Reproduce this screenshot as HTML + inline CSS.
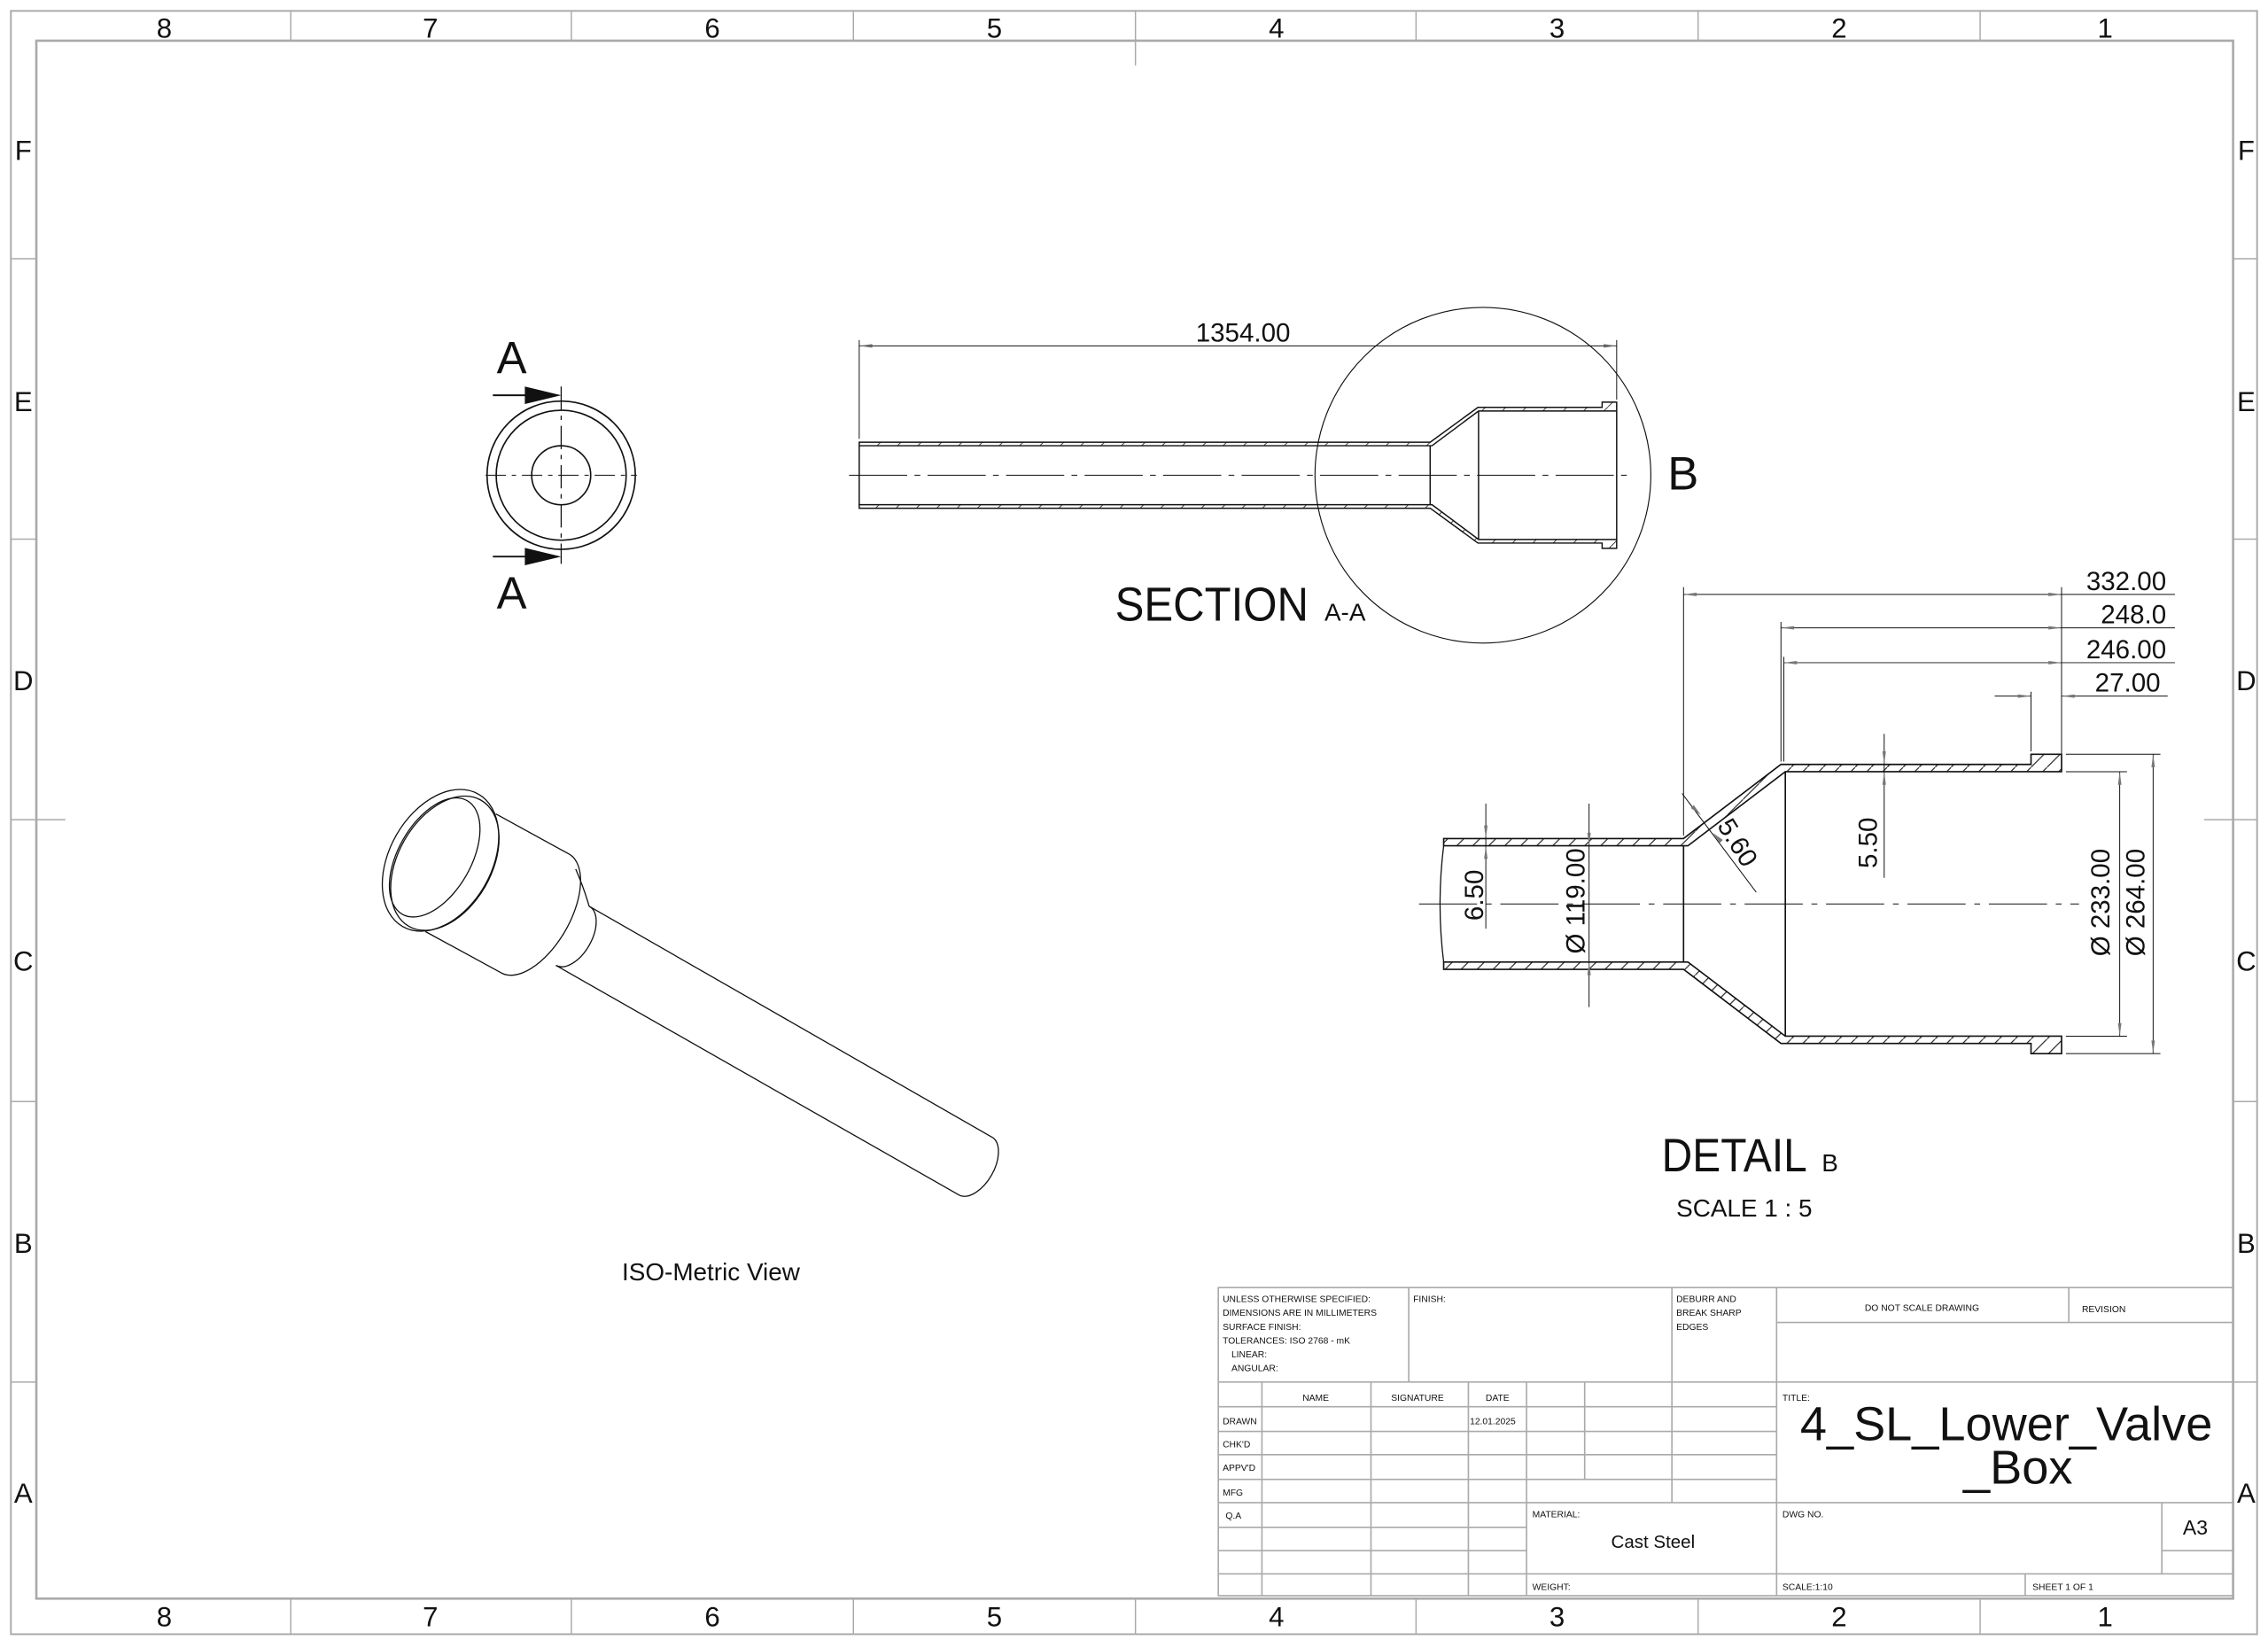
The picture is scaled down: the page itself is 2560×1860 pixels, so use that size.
<!DOCTYPE html>
<html><head><meta charset="utf-8"><style>
html,body{margin:0;padding:0;background:#fff;}
svg{display:block;}
text{font-family:"Liberation Sans",sans-serif;fill:#111;}
</style></head><body>
<svg width="2560" height="1860" viewBox="0 0 1560 1134" preserveAspectRatio="none" xmlns="http://www.w3.org/2000/svg">
<defs>
<pattern id="h" patternUnits="userSpaceOnUse" width="11" height="11"><line x1="0" y1="11" x2="11" y2="0" stroke="#222" stroke-width="0.7"/></pattern>
<pattern id="h2" patternUnits="userSpaceOnUse" width="14" height="14"><line x1="0" y1="14" x2="14" y2="0" stroke="#222" stroke-width="0.5"/></pattern>
</defs>
<rect width="1560" height="1134" fill="#fff"/>
<g fill="none" stroke="#aaa">
<rect x="7.5" y="7.5" width="1545" height="1117" stroke-width="1.2"/>
<rect x="25" y="28" width="1511" height="1072" stroke-width="1.6"/>
<g stroke-width="0.9">
<line x1="200" y1="8" x2="200" y2="28"/><line x1="393" y1="8" x2="393" y2="28"/><line x1="587" y1="8" x2="587" y2="28"/><line x1="781" y1="8" x2="781" y2="45"/><line x1="974" y1="8" x2="974" y2="28"/><line x1="1168" y1="8" x2="1168" y2="28"/><line x1="1362" y1="8" x2="1362" y2="28"/>
<line x1="200" y1="1100" x2="200" y2="1124"/><line x1="393" y1="1100" x2="393" y2="1124"/><line x1="587" y1="1100" x2="587" y2="1124"/><line x1="781" y1="1100" x2="781" y2="1124"/><line x1="974" y1="1100" x2="974" y2="1124"/><line x1="1168" y1="1100" x2="1168" y2="1124"/><line x1="1362" y1="1100" x2="1362" y2="1124"/>
<line x1="8" y1="178" x2="25" y2="178"/><line x1="8" y1="371" x2="25" y2="371"/><line x1="8" y1="564" x2="45" y2="564"/><line x1="8" y1="758" x2="25" y2="758"/><line x1="8" y1="951" x2="25" y2="951"/>
<line x1="1536" y1="178" x2="1552" y2="178"/><line x1="1536" y1="371" x2="1552" y2="371"/><line x1="1516" y1="564" x2="1552" y2="564"/><line x1="1536" y1="758" x2="1552" y2="758"/><line x1="1536" y1="951" x2="1552" y2="951"/>
</g></g>
<g font-size="19" text-anchor="middle">
<text x="113" y="26">8</text><text x="296" y="26">7</text><text x="490" y="26">6</text><text x="684" y="26">5</text><text x="878" y="26">4</text><text x="1071" y="26">3</text><text x="1265" y="26">2</text><text x="1448" y="26">1</text>
<text x="113" y="1119">8</text><text x="296" y="1119">7</text><text x="490" y="1119">6</text><text x="684" y="1119">5</text><text x="878" y="1119">4</text><text x="1071" y="1119">3</text><text x="1265" y="1119">2</text><text x="1448" y="1119">1</text>
<text x="16" y="110">F</text><text x="16" y="283">E</text><text x="16" y="475">D</text><text x="16" y="668">C</text><text x="16" y="862">B</text><text x="16" y="1034">A</text>
<text x="1545" y="110">F</text><text x="1545" y="283">E</text><text x="1545" y="475">D</text><text x="1545" y="668">C</text><text x="1545" y="862">B</text><text x="1545" y="1034">A</text>
</g>

<g fill="none" stroke="#111" stroke-width="1">
<circle cx="386" cy="327" r="51"/><circle cx="386" cy="327" r="44.7"/><circle cx="386" cy="327" r="20.3"/>
<line x1="334" y1="327" x2="438" y2="327" stroke-width="0.6" stroke-dasharray="14,4,3,4"/>
<line x1="386" y1="266" x2="386" y2="388" stroke-width="0.8" stroke-dasharray="16,4,3,4"/>
<line x1="339" y1="272" x2="365" y2="272" stroke-width="1.2"/><line x1="339" y1="383" x2="365" y2="383" stroke-width="1.2"/>
</g>
<polygon points="361,266 386,272 361,278" fill="#111"/><polygon points="361,377 386,383 361,389" fill="#111"/>
<text x="352" y="257" font-size="31" text-anchor="middle">A</text><text x="352" y="419" font-size="31" text-anchor="middle">A</text>

<g fill="none" stroke="#111" stroke-width="0.9">
<path d="M591,304.3 L983.7,304.3 L1016.6,280.3 L1102,280.3 L1102,276.7 L1112,276.7 L1112,282.8 L1017,282.8 L985,306.7 L591,306.7 Z" fill="url(#h2)"/>
<path d="M591,349.7 L983.7,349.7 L1016.6,373.7 L1102,373.7 L1102,377.3 L1112,377.3 L1112,371.2 L1017,371.2 L985,347.3 L591,347.3 Z" fill="url(#h2)"/>
<line x1="591" y1="306.7" x2="591" y2="347.3"/><line x1="983.7" y1="306.7" x2="983.7" y2="347.3"/><line x1="1017" y1="282.8" x2="1017" y2="371.2"/><line x1="1112" y1="282.8" x2="1112" y2="371.2"/>
<line x1="584" y1="327" x2="1122" y2="327" stroke-width="0.6" stroke-dasharray="40,5,4,5"/>
<circle cx="1020" cy="327" r="115.5" stroke-width="0.7"/>
<g stroke-width="0.6"><line x1="591" y1="234" x2="591" y2="302"/><line x1="1112" y1="234" x2="1112" y2="275"/><line x1="591" y1="238" x2="1112" y2="238"/></g>
</g>
<g fill="#666"><polygon points="591,238 600,236.8 600,239.2"/><polygon points="1112,238 1103,236.8 1103,239.2"/></g>
<text x="855" y="235" font-size="18" text-anchor="middle">1354.00</text>
<text x="1147" y="337" font-size="32">B</text>
<text x="767" y="427" font-size="33" textLength="133" lengthAdjust="spacingAndGlyphs">SECTION</text><text x="911" y="427" font-size="17">A-A</text>

<g fill="none" stroke="#111" stroke-width="0.8">
<ellipse cx="303" cy="592" rx="35" ry="52.5" transform="rotate(29.8 303 592)"/>
<ellipse cx="306" cy="594" rx="32" ry="50" transform="rotate(29.8 306 594)"/>
<ellipse cx="299" cy="590" rx="25" ry="45" transform="rotate(29.8 299 590)"/>
<line x1="341" y1="560" x2="392" y2="588"/><line x1="292.6" y1="641" x2="344" y2="669"/>
<path d="M392,588 A24,47 29.8 0 1 344,669"/>
<path d="M396,598 Q402,612 405.2,623.6"/>
<path d="M405.2,623.6 A13,23 29.8 0 1 382.4,664.3"/>
<line x1="405.2" y1="623.6" x2="683.2" y2="783"/><line x1="382.4" y1="664.3" x2="660.4" y2="822.7"/>
<path d="M683.2,783 A13,23 29.8 0 1 660.4,822.7"/>
</g>
<text x="489" y="881" font-size="17" text-anchor="middle">ISO-Metric View</text>

<g fill="none" stroke="#111" stroke-width="1">
<path d="M993,577 L1158,577 L1225,526 L1397,526 L1397,519 L1418,519 L1418,531 L1228,531 L1161,582 L993,582 Z" fill="url(#h)"/>
<path d="M993,667 L1158,667 L1225,718 L1397,718 L1397,725 L1418,725 L1418,713 L1228,713 L1161,662 L993,662 Z" fill="url(#h)"/>
<line x1="1158" y1="582" x2="1158" y2="662"/><line x1="1228" y1="531" x2="1228" y2="713"/>
<path d="M993,582 Q988,622 993,662" stroke-width="0.8"/>
</g>
<g fill="none" stroke="#111" stroke-width="0.6">
<line x1="976" y1="622" x2="1430" y2="622" stroke-dasharray="40,6,4,6"/>
<line x1="1158" y1="404" x2="1158" y2="575"/><line x1="1225" y1="428" x2="1225" y2="524"/><line x1="1227" y1="452" x2="1227" y2="524"/>
<line x1="1418" y1="404" x2="1418" y2="519"/><line x1="1397" y1="476" x2="1397" y2="517"/>
<line x1="1158" y1="409" x2="1496" y2="409"/><line x1="1225" y1="432" x2="1496" y2="432"/><line x1="1227" y1="456" x2="1496" y2="456"/>
<line x1="1372" y1="479" x2="1397" y2="479"/><line x1="1418" y1="479" x2="1491" y2="479"/>
<line x1="1022" y1="553" x2="1022" y2="639"/><line x1="1093" y1="553" x2="1093" y2="693"/>
<line x1="1296" y1="505" x2="1296" y2="604"/>
<line x1="1458" y1="531" x2="1458" y2="713"/><line x1="1481" y1="519" x2="1481" y2="725"/>
<line x1="1421" y1="531" x2="1463" y2="531"/><line x1="1421" y1="713" x2="1463" y2="713"/>
<line x1="1421" y1="519" x2="1486" y2="519"/><line x1="1421" y1="725" x2="1486" y2="725"/>
<line x1="1157" y1="546" x2="1208" y2="614"/>
</g>
<g fill="#777">
<polygon points="1158,409 1167,407.8 1167,410.2"/><polygon points="1418,409 1409,407.8 1409,410.2"/>
<polygon points="1225,432 1234,430.8 1234,433.2"/><polygon points="1418,432 1409,430.8 1409,433.2"/>
<polygon points="1227,456 1236,454.8 1236,457.2"/><polygon points="1418,456 1409,454.8 1409,457.2"/>
<polygon points="1397,479 1388,477.8 1388,480.2"/><polygon points="1418,479 1427,477.8 1427,480.2"/>
<polygon points="1022,577 1020.8,568 1023.2,568"/><polygon points="1022,582 1020.8,591 1023.2,591"/>
<polygon points="1093,582 1091.8,573 1094.2,573"/><polygon points="1093,662 1091.8,671 1094.2,671"/>
<polygon points="1296,526 1294.8,517 1297.2,517"/><polygon points="1296,531 1294.8,540 1297.2,540"/>
<polygon points="1458,531 1456.8,540 1459.2,540"/><polygon points="1458,713 1456.8,704 1459.2,704"/>
<polygon points="1481,519 1479.8,528 1482.2,528"/><polygon points="1481,725 1479.8,716 1482.2,716"/>
<polygon points="1170,561 1163,556 1165,554"/><polygon points="1178,573 1185,578 1183,580"/>
</g>
<g font-size="18">
<text x="1490" y="406" text-anchor="end">332.00</text>
<text x="1490" y="429" text-anchor="end">248.0</text>
<text x="1490" y="453" text-anchor="end">246.00</text>
<text x="1486" y="476" text-anchor="end">27.00</text>
<text transform="translate(1020,616) rotate(-90)" text-anchor="middle">6.50</text>
<text transform="translate(1090,620) rotate(-90)" text-anchor="middle">Ø 119.00</text>
<text transform="translate(1291,580) rotate(-90)" text-anchor="middle">5.50</text>
<text transform="translate(1451,621) rotate(-90)" text-anchor="middle">Ø 233.00</text>
<text transform="translate(1475,621) rotate(-90)" text-anchor="middle">Ø 264.00</text>
<text transform="translate(1190,583) rotate(58)" text-anchor="middle">5.60</text>
</g>
<text x="1143" y="806" font-size="32" textLength="100" lengthAdjust="spacingAndGlyphs">DETAIL</text><text x="1253" y="806" font-size="17">B</text>
<text x="1153" y="837" font-size="17">SCALE 1 : 5</text>

<g fill="none" stroke="#aaa" stroke-width="1">
<rect x="838" y="886" width="698" height="212"/>
<line x1="838" y1="951" x2="1536" y2="951"/>
<line x1="1222" y1="886" x2="1222" y2="1098"/>
<line x1="1222" y1="910" x2="1536" y2="910"/><line x1="1423" y1="886" x2="1423" y2="910"/>
<line x1="969" y1="886" x2="969" y2="951"/><line x1="1150" y1="886" x2="1150" y2="1034"/>
<line x1="838" y1="968" x2="1222" y2="968"/><line x1="838" y1="985" x2="1222" y2="985"/><line x1="838" y1="1001" x2="1222" y2="1001"/><line x1="838" y1="1018" x2="1222" y2="1018"/>
<line x1="838" y1="1034" x2="1536" y2="1034"/>
<line x1="838" y1="1051" x2="1050" y2="1051"/><line x1="838" y1="1067" x2="1050" y2="1067"/><line x1="838" y1="1083" x2="1536" y2="1083"/>
<line x1="868" y1="951" x2="868" y2="1098"/><line x1="943" y1="951" x2="943" y2="1098"/><line x1="1010" y1="951" x2="1010" y2="1098"/><line x1="1050" y1="951" x2="1050" y2="1098"/>
<line x1="1090" y1="951" x2="1090" y2="1018"/>
<line x1="1487" y1="1034" x2="1487" y2="1083"/><line x1="1487" y1="1067" x2="1536" y2="1067"/>
<line x1="1393" y1="1083" x2="1393" y2="1098"/>
</g>
<g font-size="6.3">
<text x="841" y="896">UNLESS OTHERWISE SPECIFIED:</text>
<text x="841" y="905.5">DIMENSIONS ARE IN MILLIMETERS</text>
<text x="841" y="915">SURFACE FINISH:</text>
<text x="841" y="924.5">TOLERANCES: ISO 2768 - mK</text>
<text x="847" y="934">LINEAR:</text>
<text x="847" y="943.5">ANGULAR:</text>
<text x="972" y="896">FINISH:</text>
<text x="1153" y="896">DEBURR AND</text><text x="1153" y="905.5">BREAK SHARP</text><text x="1153" y="915">EDGES</text>
<text x="1322" y="902" text-anchor="middle">DO NOT SCALE DRAWING</text>
<text x="1432" y="903">REVISION</text>
<text x="905" y="964" text-anchor="middle">NAME</text><text x="975" y="964" text-anchor="middle">SIGNATURE</text><text x="1030" y="964" text-anchor="middle">DATE</text>
<text x="841" y="980">DRAWN</text><text x="1011" y="980">12.01.2025</text>
<text x="841" y="996">CHK'D</text><text x="841" y="1012">APPV'D</text><text x="841" y="1029">MFG</text><text x="843" y="1045">Q.A</text>
<text x="1226" y="964">TITLE:</text>
<text x="1054" y="1044">MATERIAL:</text><text x="1226" y="1044">DWG NO.</text>
<text x="1054" y="1094">WEIGHT:</text><text x="1226" y="1094">SCALE:1:10</text><text x="1398" y="1094">SHEET 1 OF 1</text>
</g>
<text x="1137" y="1065" font-size="12.5" text-anchor="middle">Cast Steel</text>
<text x="1510" y="1056" font-size="14" text-anchor="middle">A3</text>
<text x="1380" y="991" font-size="33" text-anchor="middle">4_SL_Lower_Valve</text>
<text x="1388" y="1021" font-size="33" text-anchor="middle">_Box</text>
</svg>
</body></html>
